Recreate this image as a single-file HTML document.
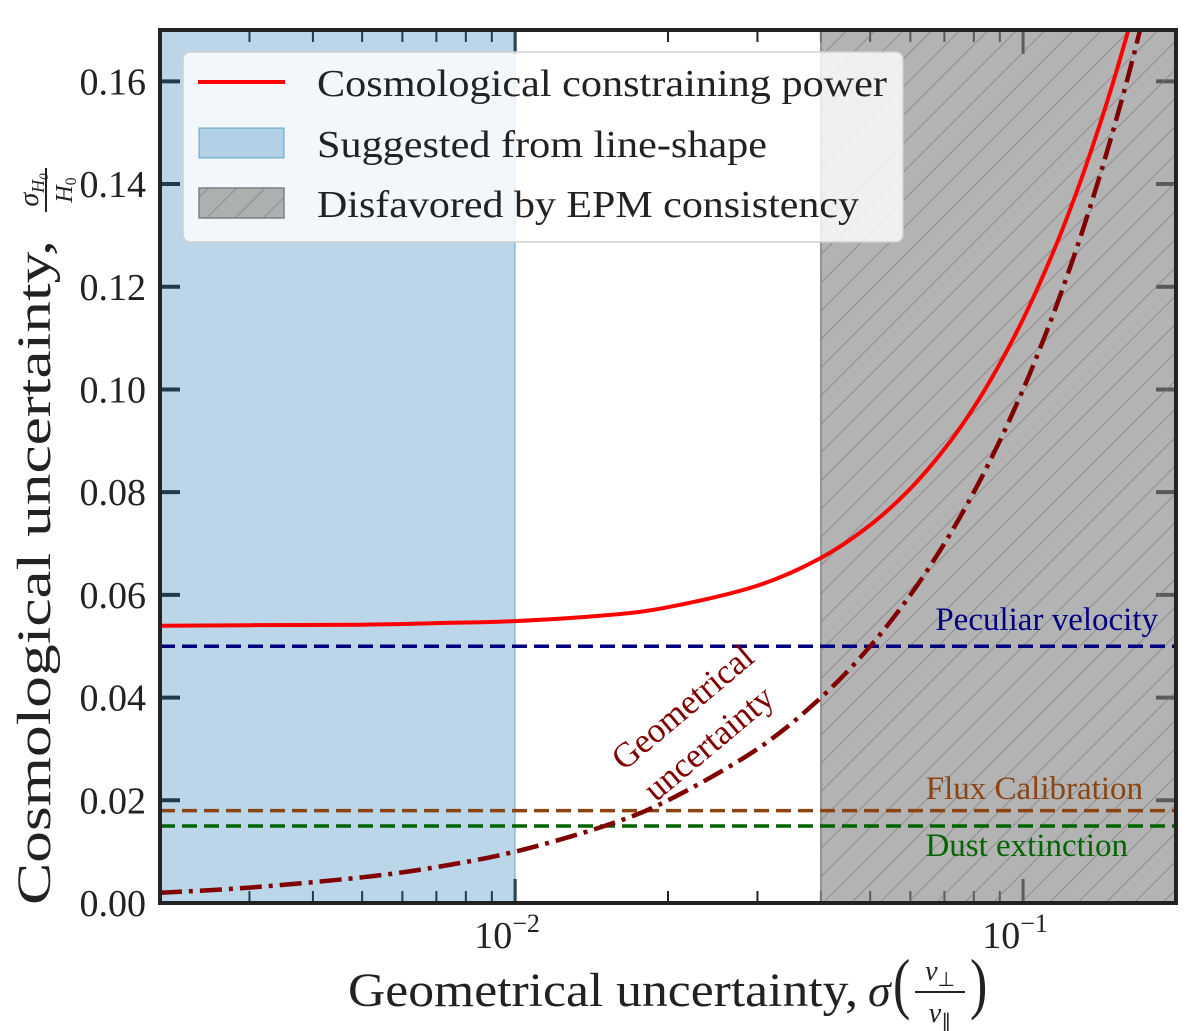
<!DOCTYPE html>
<html><head><meta charset="utf-8"><style>
html,body{margin:0;padding:0;background:#fff;}
svg{display:block;font-family:"Liberation Serif",serif;}
</style></head><body>
<svg id="chart" width="1200" height="1031" viewBox="0 0 1200 1031" xmlns="http://www.w3.org/2000/svg">
<defs>
<pattern id="hatch" patternUnits="userSpaceOnUse" width="20" height="20" patternTransform="rotate(45)">
<line x1="0" y1="0" x2="0" y2="20" stroke="#7a7a7a" stroke-width="1.3"/>
</pattern>
<clipPath id="plotclip"><rect x="160" y="30" width="1016" height="873"/></clipPath>
</defs>
<g id="ticks"></g>
<g id="regions"></g>
<g id="series" clip-path="url(#plotclip)"></g>
<g id="labels"></g>
<rect x="160" y="30" width="1016" height="873" fill="none" stroke="#222" stroke-width="4"/>

<text transform="translate(690,716) rotate(-40)" text-anchor="middle" font-size="35" fill="#800000">Geometrical</text>
<text transform="translate(716,752) rotate(-40)" text-anchor="middle" font-size="35" fill="#800000">uncertainty</text>
<text x="1158" y="630" text-anchor="end" font-size="33" fill="#000080">Peculiar velocity</text>
<text x="1143" y="799" text-anchor="end" font-size="33" fill="#8b4513">Flux Calibration</text>
<text x="1128" y="856" text-anchor="end" font-size="33" fill="#006400">Dust extinction</text>

<g>
<rect x="183" y="52" width="720" height="190" rx="7" fill="#fff" fill-opacity="0.8" stroke="#d0d0d0" stroke-width="1.5"/>
<line x1="198" y1="82" x2="285" y2="82" stroke="#ff0000" stroke-width="4"/>
<text x="317" y="96" font-size="38" fill="#222" textLength="570" lengthAdjust="spacingAndGlyphs">Cosmological constraining power</text>
<rect x="199" y="128" width="85" height="30" fill="#1f77b4" fill-opacity="0.3" stroke="#1f77b4" stroke-opacity="0.4" stroke-width="1.5"/>
<text x="317" y="157" font-size="38" fill="#222" textLength="450" lengthAdjust="spacingAndGlyphs">Suggested from line-shape</text>
<rect x="199" y="188" width="85" height="30" fill="#808080" fill-opacity="0.6" stroke="#808080" stroke-width="1.5"/>
<rect x="199" y="188" width="85" height="30" fill="url(#hatch)"/>
<text x="317" y="217" font-size="38" fill="#222" textLength="542" lengthAdjust="spacingAndGlyphs">Disfavored by EPM consistency</text>
</g>

<g transform="translate(50,0) rotate(-90)">
<text x="-905" y="0" font-size="48" fill="#222" textLength="665" lengthAdjust="spacingAndGlyphs">Cosmological uncertainty,</text>
<text x="-190" y="-12" text-anchor="middle" font-size="28" font-style="italic" fill="#222">σ<tspan font-size="18" dy="6">H</tspan><tspan font-size="13" dy="4">0</tspan></text>
<line x1="-212" y1="-4" x2="-168" y2="-4" stroke="#222" stroke-width="2"/>
<text x="-190" y="22" text-anchor="middle" font-size="24" font-style="italic" fill="#222">H<tspan font-size="16" dy="4" font-style="normal">0</tspan></text>
</g>
<g>
<text x="348" y="1006" font-size="48" fill="#222" textLength="510" lengthAdjust="spacingAndGlyphs">Geometrical uncertainty,</text>
<text x="868" y="1006" font-size="46" font-style="italic" fill="#222">σ</text>
<text x="893" y="1006" font-size="52" fill="#222" transform="translate(893,1006) scale(1,1.3) translate(-893,-1006)">(</text>
<text x="940" y="980" text-anchor="middle" font-size="28" font-style="italic" fill="#222">v<tspan font-size="20" font-style="normal" dy="6">⊥</tspan></text>
<line x1="915" y1="992" x2="965" y2="992" stroke="#222" stroke-width="2"/>
<text x="940" y="1022" text-anchor="middle" font-size="28" font-style="italic" fill="#222">v<tspan font-size="20" font-style="normal" dy="6">∥</tspan></text>
<text x="970" y="1006" font-size="52" fill="#222" transform="translate(970,1006) scale(1,1.3) translate(-970,-1006)">)</text>
</g>
</svg>
<script>
// ---- data ----
const xSamples = [0.002,0.003,0.005,0.007,0.01,0.015,0.02,0.03,0.04,0.05,0.06,0.07,0.08,0.09,0.1,0.11,0.12,0.13,0.14,0.15,0.16,0.17,0.18,0.2];
const cosmoValues = [0.0540,0.0541,0.0542,0.0545,0.0549,0.0560,0.0576,0.0618,0.0672,0.0736,0.0807,0.0884,0.0965,0.1050,0.1137,0.1226,0.1316,0.1408,0.1501,0.1594,0.1689,0.1783,0.1879,0.2072];
const geomValues = [0.002,0.003,0.005,0.007,0.010,0.015,0.020,0.030,0.040,0.050,0.060,0.070,0.080,0.090,0.100,0.110,0.120,0.130,0.140,0.150,0.160,0.170,0.180,0.200];
const hLineNames = ["peculiar-velocity","flux-calibration","dust-extinction"];
const hLineValues = [0.05,0.018,0.015];
const hLineColors = ["#000080","#8b4513","#006400"];
const lineShapeRange = [0.002,0.01];
const epmRange = [0.04,0.2];
const yTicks = [0,0.02,0.04,0.06,0.08,0.10,0.12,0.14,0.16];
const yTickLabels = ["0.00","0.02","0.04","0.06","0.08","0.10","0.12","0.14","0.16"];
const xMajorTicks = [0.01,0.1];
const xMajorLabels = ["−2","−1"];
const xMinorTicks = [0.003,0.004,0.005,0.006,0.007,0.008,0.009,0.02,0.03,0.04,0.05,0.06,0.07,0.08,0.09];

// ---- axes ----
const L=160,R=1176,T=30,B=903;
const xMin=Math.log10(0.002), xMax=Math.log10(0.2);
const yMin=0, yMax=0.17;
function xs(v){return L+(Math.log10(v)-xMin)/(xMax-xMin)*(R-L);}
function ys(v){return B-(v-yMin)/(yMax-yMin)*(B-T);}
const NS="http://www.w3.org/2000/svg";
function mk(tag,parent,attrs){const e=document.createElementNS(NS,tag);for(const k in attrs)e.setAttribute(k,attrs[k]);parent.appendChild(e);return e;}

const gT=document.getElementById('ticks');
yTicks.forEach((v,i)=>{
  const y=ys(v);
  const a=mk('line',gT,{x1:L,y1:y,x2:L+20,y2:y,stroke:'#222','stroke-width':4});
  
  
  const b=mk('line',gT,{x1:R-20,y1:y,x2:R,y2:y,stroke:'#222','stroke-width':4});
  
  
});
xMajorTicks.forEach(v=>{
  const x=xs(v);
  const a=mk('line',gT,{x1:x,y1:B,x2:x,y2:B-24,stroke:'#222','stroke-width':3});
  
  
  const b=mk('line',gT,{x1:x,y1:T,x2:x,y2:T+24,stroke:'#222','stroke-width':3});
  
  
});
xMinorTicks.forEach(v=>{
  const x=xs(v);
  const a=mk('line',gT,{x1:x,y1:B,x2:x,y2:B-12,stroke:'#222','stroke-width':2});
  
  
  const b=mk('line',gT,{x1:x,y1:T,x2:x,y2:T+12,stroke:'#222','stroke-width':2});
  
  
});

const gR=document.getElementById('regions');
const blue=mk('rect',gR,{x:xs(lineShapeRange[0]),y:T,width:xs(lineShapeRange[1])-xs(lineShapeRange[0]),height:B-T,fill:'#1f77b4','fill-opacity':0.3});


const bl=mk('line',gR,{x1:xs(lineShapeRange[1]),y1:T,x2:xs(lineShapeRange[1]),y2:B,stroke:'#1f77b4','stroke-opacity':0.4,'stroke-width':1.5});


const grey=mk('rect',gR,{x:xs(epmRange[0]),y:T,width:xs(epmRange[1])-xs(epmRange[0]),height:B-T,fill:'#808080','fill-opacity':0.6,stroke:'#808080','stroke-width':1.5});


const hatch=mk('rect',gR,{x:xs(epmRange[0]),y:T,width:xs(epmRange[1])-xs(epmRange[0]),height:B-T,fill:'url(#hatch)'});



const gS=document.getElementById('series');
hLineValues.forEach((v,i)=>{
  const l=mk('line',gS,{x1:L,y1:ys(v),x2:R,y2:ys(v),stroke:hLineColors[i],'stroke-width':3.5,'stroke-dasharray':'15 7'});
  
  
});
// smooth Catmull-Rom path through data points
function path(vals){
  const p=xSamples.map((x,i)=>[xs(x),ys(vals[i])]);
  let d='M'+p[0][0].toFixed(1)+','+p[0][1].toFixed(1);
  for(let i=0;i<p.length-1;i++){
    const p0=p[Math.max(0,i-1)],p1=p[i],p2=p[i+1],p3=p[Math.min(p.length-1,i+2)];
    const c1=[p1[0]+(p2[0]-p0[0])/6,p1[1]+(p2[1]-p0[1])/6];
    const c2=[p2[0]-(p3[0]-p1[0])/6,p2[1]-(p3[1]-p1[1])/6];
    d+=' C'+c1.map(v=>v.toFixed(1)).join(',')+' '+c2.map(v=>v.toFixed(1)).join(',')+' '+p2[0].toFixed(1)+','+p2[1].toFixed(1);
  }
  return d;
}
const geo=mk('path',gS,{d:path(geomValues),fill:'none',stroke:'#800000','stroke-width':4.5,'stroke-dasharray':'22 7 4 7'});


const cos=mk('path',gS,{d:path(cosmoValues),fill:'none',stroke:'#ff0000','stroke-width':4});



const gL=document.getElementById('labels');
yTicks.forEach((v,i)=>{
  const t=mk('text',gL,{x:146,y:ys(v)+13,'text-anchor':'end','font-size':38,fill:'#222'});
  t.textContent=yTickLabels[i];
  
  
});
xMajorTicks.forEach((v,i)=>{
  const t=mk('text',gL,{x:xs(v)-8,y:948,'text-anchor':'middle','font-size':38,fill:'#222'});
  t.textContent='10';
  const s=mk('tspan',t,{'font-size':26,dy:-16});
  s.textContent=xMajorLabels[i];
  
  
});
</script>
</body></html>
